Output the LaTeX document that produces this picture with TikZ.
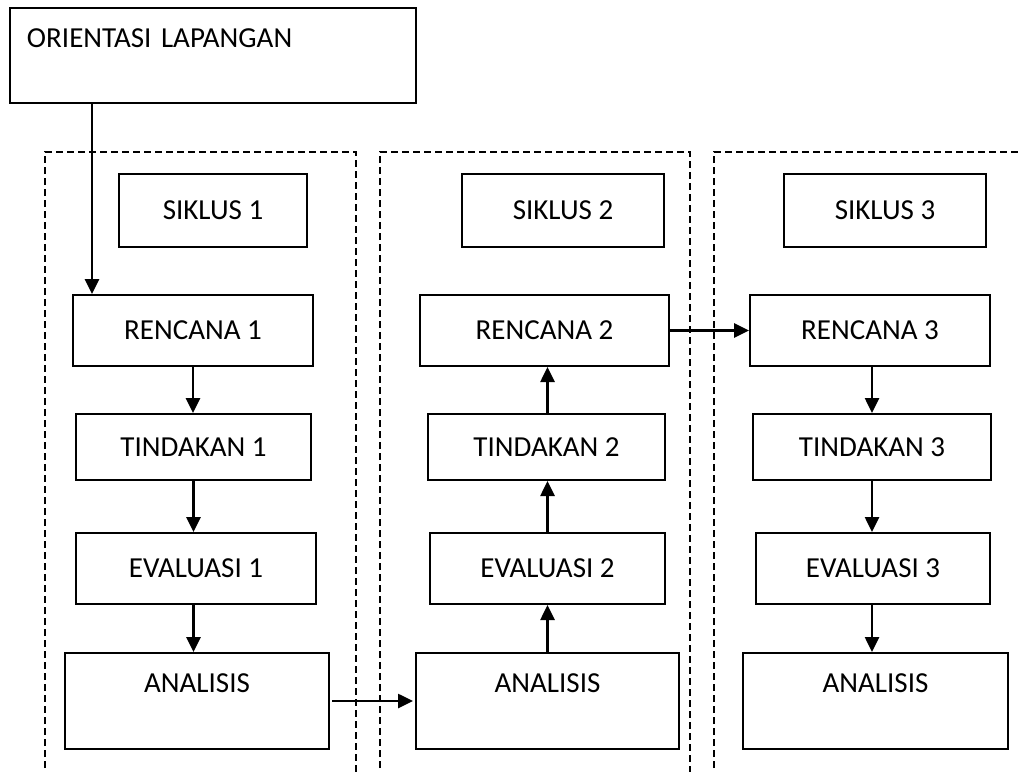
\documentclass[tikz,border=0pt]{standalone}
\usepackage{fontspec}
\setmainfont{Carlito}
\usetikzlibrary{arrows.meta,positioning,calc}

\tikzset{
  kotak/.style={draw, line width=2pt, inner sep=0pt, font=\fontsize{29}{35}\selectfont},
  panah/.style={line width=2.6pt, -{Triangle[length=15pt,width=14pt]}},
  siklusbox/.style={dashed, line width=1.5pt, dash pattern=on 7pt off 4pt}
}

\begin{document}
\begin{tikzpicture}[x=1pt,y=-1pt]
  \clip (0,0) rectangle (1022,771);
  \fill[white] (0,0) rectangle (1022,771);
  % kotak putus-putus tiap siklus
  \draw[siklusbox] (45,790) -- (45,152) -- (356,152) -- (356,790);
  \draw[siklusbox] (380,790) -- (380,152) -- (690,152) -- (690,790);
  \draw[siklusbox] (714,790) -- (714,152) -- (1040,152);
  % orientasi
  \node[kotak, minimum width=406pt, minimum height=95pt, text width=372pt, align=left]
    (orient) at (213,55.5) {ORIENTASI LAPANGAN\\~};
  % siklus 1
  \node[kotak, minimum width=188pt, minimum height=73pt] (sik1) at (213,210.5) {SIKLUS 1};
  \node[kotak, minimum width=240pt, minimum height=71pt] (ren1) at (193,330.5) {RENCANA 1};
  \node[kotak, minimum width=235pt, minimum height=66pt] (tin1) at (193.5,447) {TINDAKAN 1};
  \node[kotak, minimum width=240pt, minimum height=71pt] (eva1) at (196,568.5) {EVALUASI 1};
  \node[kotak, minimum width=264pt, minimum height=96pt, align=center] (ana1) at (197,701) {ANALISIS\\~};
  % siklus 2
  \node[kotak, minimum width=202pt, minimum height=73pt] (sik2) at (563,210.5) {SIKLUS 2};
  \node[kotak, minimum width=249pt, minimum height=71pt] (ren2) at (544.5,330.5) {RENCANA 2};
  \node[kotak, minimum width=237pt, minimum height=66pt] (tin2) at (546.5,447) {TINDAKAN 2};
  \node[kotak, minimum width=235pt, minimum height=71pt] (eva2) at (547.5,568.5) {EVALUASI 2};
  \node[kotak, minimum width=263pt, minimum height=96pt, align=center] (ana2) at (547.5,701) {ANALISIS\\~};
  % siklus 3
  \node[kotak, minimum width=202pt, minimum height=73pt] (sik3) at (885,210.5) {SIKLUS 3};
  \node[kotak, minimum width=240pt, minimum height=71pt] (ren3) at (870,330.5) {RENCANA 3};
  \node[kotak, minimum width=238pt, minimum height=66pt] (tin3) at (872,447) {TINDAKAN 3};
  \node[kotak, minimum width=234pt, minimum height=71pt] (eva3) at (873,568.5) {EVALUASI 3};
  \node[kotak, minimum width=265pt, minimum height=96pt, align=center] (ana3) at (875.5,701) {ANALISIS\\~};
  % panah
  \draw[panah] ([xshift=83pt]orient.south west) -- ([xshift=20pt]ren1.north west);
  \draw[panah] (ren1.south) -- (ren1.south |- tin1.north);
  \draw[panah] (tin1.south) -- (tin1.south |- eva1.north);
  \draw[panah] (tin1.south |- eva1.south) -- (tin1.south |- ana1.north);
  \draw[panah, shorten <=2pt, shorten >=2pt] (ana1.east) -- (ana2.west);
  \draw[panah] (ana2.north) -- (ana2.north |- eva2.south);
  \draw[panah] (ana2.north |- eva2.north) -- (ana2.north |- tin2.south);
  \draw[panah] (ana2.north |- tin2.north) -- (ana2.north |- ren2.south);
  \draw[panah, shorten <=-2pt] (ren2.east) -- (ren3.west);
  \draw[panah] (ren3.south -| 872,0) -- (tin3.north);
  \draw[panah] (tin3.south) -- (tin3.south |- eva3.north);
  \draw[panah] (tin3.south |- eva3.south) -- (tin3.south |- ana3.north);
\end{tikzpicture}
\end{document}
